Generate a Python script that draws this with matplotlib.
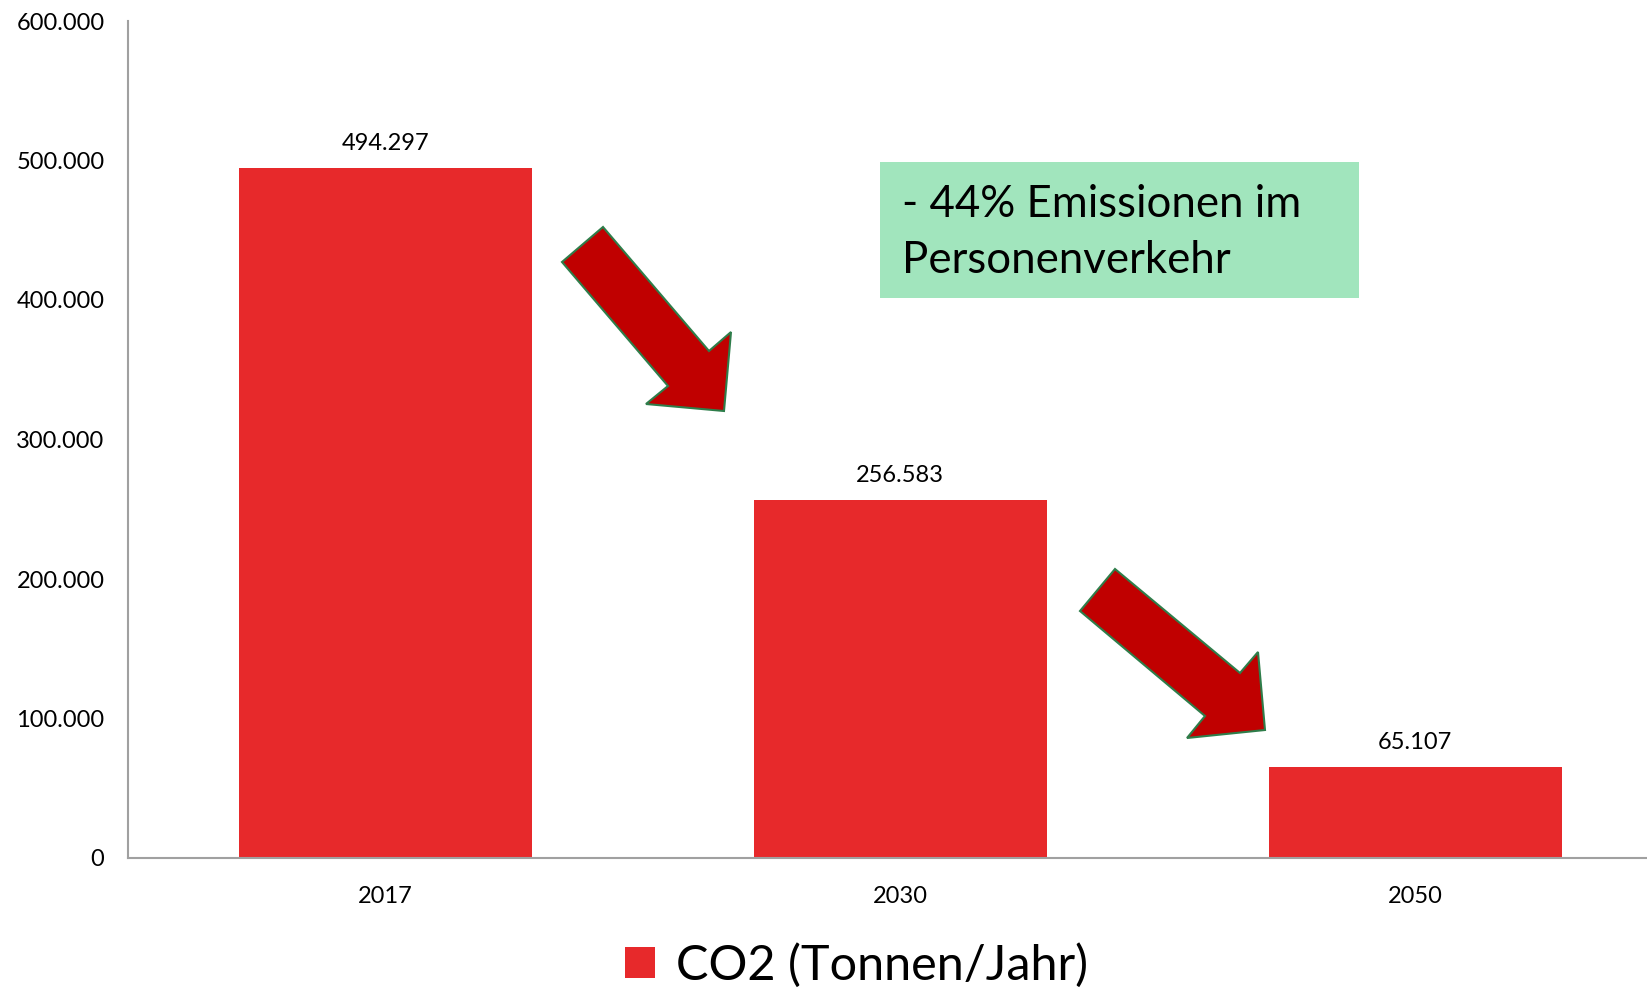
import matplotlib.pyplot as plt
from matplotlib.patches import Polygon, Rectangle

plt.rcParams['font.family'] = ['Lato', 'DejaVu Sans']

# Daten
jahre = ['2017', '2030', '2050']
co2_werte = [494297, 256583, 65107]
wert_labels = ['494.297', '256.583', '65.107']
y_ticks = [0, 100000, 200000, 300000, 400000, 500000, 600000]
y_tick_labels = ['0', '100.000', '200.000', '300.000', '400.000', '500.000', '600.000']
legende = 'CO2 (Tonnen/Jahr)'
hinweis = ['- 44% Emissionen im', 'Personenverkehr']

W, H = 1647, 990
fig = plt.figure(figsize=(W / 100, H / 100), dpi=100)
ax = fig.add_axes([128 / W, 1 - 858 / H, 1 - 128 / W, (858 - 21) / H])

x = list(range(len(jahre)))
bars = ax.bar(x, co2_werte, width=0.569, color='#E7292B', label=legende, zorder=2)

for xi, v, lab in zip(x, co2_werte, wert_labels):
    ax.annotate(lab, (xi, v), xytext=(0, 18), textcoords='offset pixels',
                ha='center', va='baseline', fontsize=17, color='#000000')

ax.set_xlim(-0.5, 2.45)
ax.set_ylim(0, 600000)
ax.set_xticks(x)
ax.set_xticklabels(jahre)
ax.set_yticks(y_ticks)
ax.set_yticklabels(y_tick_labels)
ax.tick_params(axis='both', length=0, labelsize=17, colors='#000000')
ax.tick_params(axis='x', pad=20)
ax.tick_params(axis='y', pad=17)

for s in ['top', 'right']:
    ax.spines[s].set_visible(False)
for s in ['left', 'bottom']:
    ax.spines[s].set_color('#A0A0A0')
    ax.spines[s].set_linewidth(1.5)


def px(pts):
    return [(a / W, 1 - b / H) for a, b in pts]


# Pfeile (Pixelkoordinaten der Form)
pfeil1 = [(562, 262), (603, 227), (709, 351), (731, 332), (724, 411), (646, 404), (668, 386)]
pfeil2 = [(1080, 611), (1115, 569), (1240, 673), (1258, 652), (1265, 730), (1187, 738), (1205, 716)]
for p in [pfeil1, pfeil2]:
    fig.patches.append(Polygon(px(p), closed=True, facecolor='#C00000', edgecolor='#2E7D4A',
                               linewidth=1.5, transform=fig.transFigure, zorder=5))

# Hinweisbox
fig.patches.append(Rectangle((880 / W, 1 - 298 / H), (1359 - 880) / W, (298 - 162) / H,
                             facecolor='#A1E5BD', edgecolor='none', transform=fig.transFigure))
fig.text(902 / W, 1 - 217 / H, hinweis[0], fontsize=31.5, va='baseline', ha='left')
fig.text(902 / W, 1 - 273 / H, hinweis[1], fontsize=31.5, va='baseline', ha='left')

leg = fig.legend(handles=[bars], labels=[legende], loc='center', bbox_to_anchor=(857 / W, 1 - 965 / H),
                 frameon=False, fontsize=35, handlelength=0.6, handleheight=0.6, handletextpad=0.45,
                 borderaxespad=0, borderpad=0)

fig.savefig('out.png', dpi=100)
